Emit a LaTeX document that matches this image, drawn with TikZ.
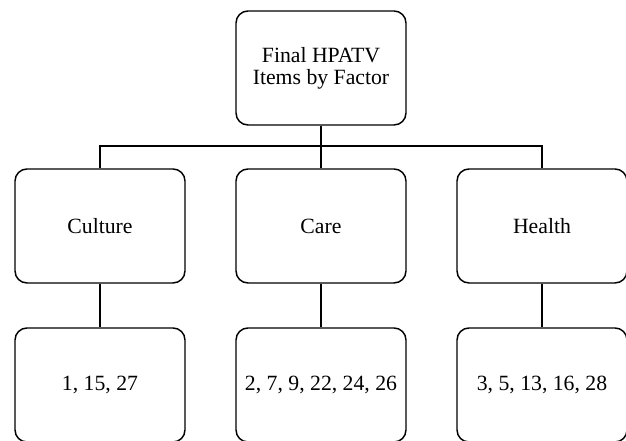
\documentclass[tikz,border=0pt]{standalone}
\usepackage{fontspec}
\setmainfont{Liberation Serif}
\usepackage{tikz}

\tikzset{
  factorbox/.style={draw, line width=1.1pt, rounded corners=9pt, minimum width=127.5pt, minimum height=85.5pt, align=center, font=\fontsize{16.3}{16.5}\selectfont},
  link/.style={line width=1.1pt}
}

\begin{document}
\begin{tikzpicture}[x=0.75pt, y=0.75pt]%one unit is one pixel of the reference
\useasboundingbox (0,0) rectangle (626,441);
\node [factorbox] (final) at (321,373) {Final HPATV\\Items by Factor};
\node [factorbox] (culture) at (100,215) {Culture};
\node [factorbox] (care) at (321,215) {Care};
\node [factorbox] (health) at (542,215) {Health};
\node [factorbox] (itemsculture) at (100,56) {1, 15, 27};
\node [factorbox] (itemscare) at (321,56) {2, 7, 9, 22, 24, 26};
\node [factorbox] (itemshealth) at (542,56) {3, 5, 13, 16, 28};
\coordinate (bus) at (321,295);
\draw [link] (final.south) -- (care.north);
\draw [link] (culture.north) |- (bus) -| (health.north);
\draw [link] (culture.south) -- (itemsculture.north);
\draw [link] (care.south) -- (itemscare.north);
\draw [link] (health.south) -- (itemshealth.north);
\end{tikzpicture}
\end{document}
